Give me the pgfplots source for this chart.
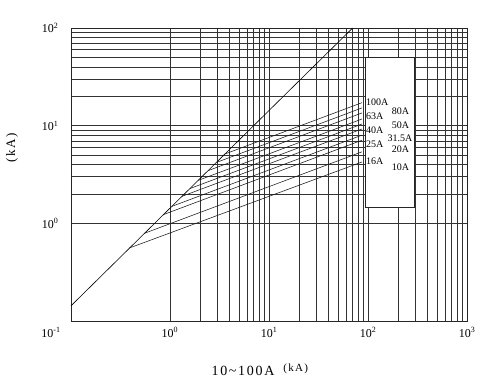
\documentclass[border=0pt]{standalone}
\usepackage{fontspec}
\setmainfont{Liberation Serif}
\usepackage{pgfplots}
\pgfplotsset{compat=1.18}
\begin{document}
\begin{tikzpicture}
\path[use as bounding box] (-71pt,-64pt) rectangle (413pt,321pt);
\begin{loglogaxis}[
  scale only axis, width=396pt, height=293pt,
  xmin=0.1, xmax=1000, ymin=0.1, ymax=100,
  xtick={1,10,100,1000},
  xticklabels={10\textsuperscript{0},10\textsuperscript{1},10\textsuperscript{2},10\textsuperscript{3}},
  ytick={1,10,100},
  yticklabels={10\textsuperscript{0},10\textsuperscript{1},10\textsuperscript{2}},
  extra x ticks={0.1},
  extra x tick labels={10\textsuperscript{-1}},
  extra x tick style={grid=none, xticklabel style={xshift=-20pt}},
  major tick length=0pt, minor tick length=0pt,
  grid=both,
  major grid style={black!80, line width=0.5pt},
  minor grid style={black!80, line width=0.5pt},
  axis line style={black!85, line width=0.55pt},
  tick label style={font=\fontsize{12}{14}\selectfont},
  yticklabel style={xshift=-9pt},
  xticklabel style={yshift=-3pt},
  xlabel={\fontsize{14}{16}\selectfont\addfontfeatures{LetterSpace=12}10\textasciitilde100A\hspace{9pt}\raisebox{4pt}{\fontsize{11}{13}\selectfont\addfontfeatures{LetterSpace=12}(kA)}},
  xlabel style={at={(axis description cs:0.477,-0.167)}, anchor=center},
  ylabel={\fontsize{13}{15}\selectfont\addfontfeatures{LetterSpace=12}(kA)},
  ylabel style={at={(axis description cs:-0.149,0.59)}, anchor=center},
]
% white label box
\addplot[draw=black!85, line width=0.55pt, fill=white] coordinates {(93.5,1.47) (292,1.47) (292,50.5) (93.5,50.5)} -- cycle;
% diagonal
\addplot[black, line width=0.6pt] coordinates {(0.1,0.143) (70,100)};
% cut-off lines (start on diagonal, end at 87 kA)
\addplot[black!90, line width=0.55pt] coordinates {(3.59,5.13) (87,17.2)};
\addplot[black!90, line width=0.55pt] coordinates {(2.94,4.20) (87,15.2)};
\addplot[black!90, line width=0.55pt] coordinates {(2.42,3.46) (87,13.5)};
\addplot[black!90, line width=0.55pt] coordinates {(1.92,2.75) (87,11.7)};
\addplot[black!90, line width=0.55pt] coordinates {(1.59,2.27) (87,10.4)};
\addplot[black!90, line width=0.55pt] coordinates {(1.32,1.89) (87,9.25)};
\addplot[black!90, line width=0.55pt] coordinates {(1.04,1.49) (87,8.0)};
\addplot[black!90, line width=0.55pt] coordinates {(0.86,1.23) (87,7.1)};
\addplot[black!90, line width=0.55pt] coordinates {(0.55,0.79) (87,5.4)};
\addplot[black!90, line width=0.55pt] coordinates {(0.39,0.56) (87,4.25)};
% labels
\begin{scope}[every node/.style={anchor=west, inner sep=0pt, font=\fontsize{10}{12}\selectfont}]
\node at (axis cs:95.5,17.2) {100A};
\node at (axis cs:173,13.9) {80A};
\node at (axis cs:95.5,12.4) {63A};
\node at (axis cs:173,10.2) {50A};
\node at (axis cs:95.5,8.9) {40A};
\node at (axis cs:157,7.4) {31.5A};
\node at (axis cs:95.5,6.5) {25A};
\node at (axis cs:173,5.76) {20A};
\node at (axis cs:95.5,4.37) {16A};
\node at (axis cs:173,3.75) {10A};
\end{scope}
\end{loglogaxis}
\end{tikzpicture}
\end{document}
